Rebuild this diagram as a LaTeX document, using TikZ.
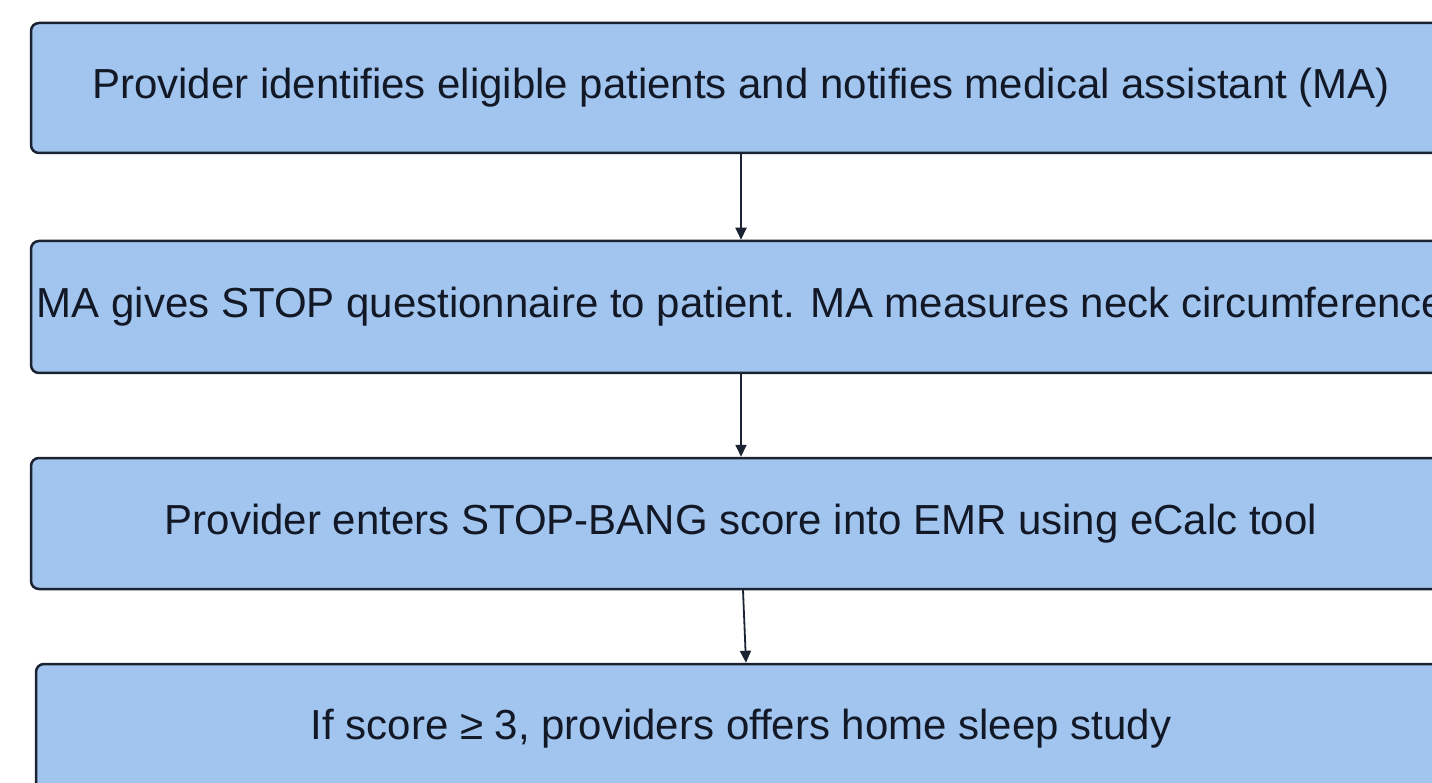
\documentclass[tikz,border=0pt]{standalone}
\usepackage{fontspec}
\setmainfont{Liberation Sans}
\usetikzlibrary{arrows.meta}
\definecolor{boxfill}{RGB}{161,197,238}
\definecolor{boxline}{RGB}{27,35,50}
\definecolor{txt}{RGB}{18,24,38}
\tikzset{
  flowbox/.style={draw=boxline, line width=2.5pt, fill=boxfill, rounded corners=8pt,
    text=txt, font=\fontsize{42}{48}\selectfont, inner sep=0pt, anchor=center},
  flowarrow/.style={draw=boxline, line width=1.8pt, -{Triangle[length=12pt,width=11pt]}}
}
\begin{document}
\begin{tikzpicture}[x=1pt,y=-1pt]
\useasboundingbox (0,0) rectangle (1432,783);
\clip (0,0) rectangle (1432,783);
\node[flowbox, minimum width=1420pt, minimum height=130pt] (b1) at (741,88) {Provider identifies eligible patients and notifies medical assistant (MA)};
\node[flowbox, minimum width=1420pt, minimum height=132pt] (b2) at (741,307) {MA gives STOP questionnaire to patient. MA measures neck circumference};
\node[flowbox, minimum width=1420pt, minimum height=131pt] (b3) at (741,523.5) {Provider enters STOP-BANG score into EMR using eCalc tool};
\node[flowbox, minimum width=1410pt, minimum height=130pt] (b4) at (741,729) {If score ≥ 3, providers offers home sleep study};
\draw[flowarrow] (b1.south) -- (b2.north);
\draw[flowarrow] (b2.south) -- (b3.north);
\draw[flowarrow] ([xshift=2pt]b3.south) -- ([xshift=5pt]b4.north);
\end{tikzpicture}
\end{document}
